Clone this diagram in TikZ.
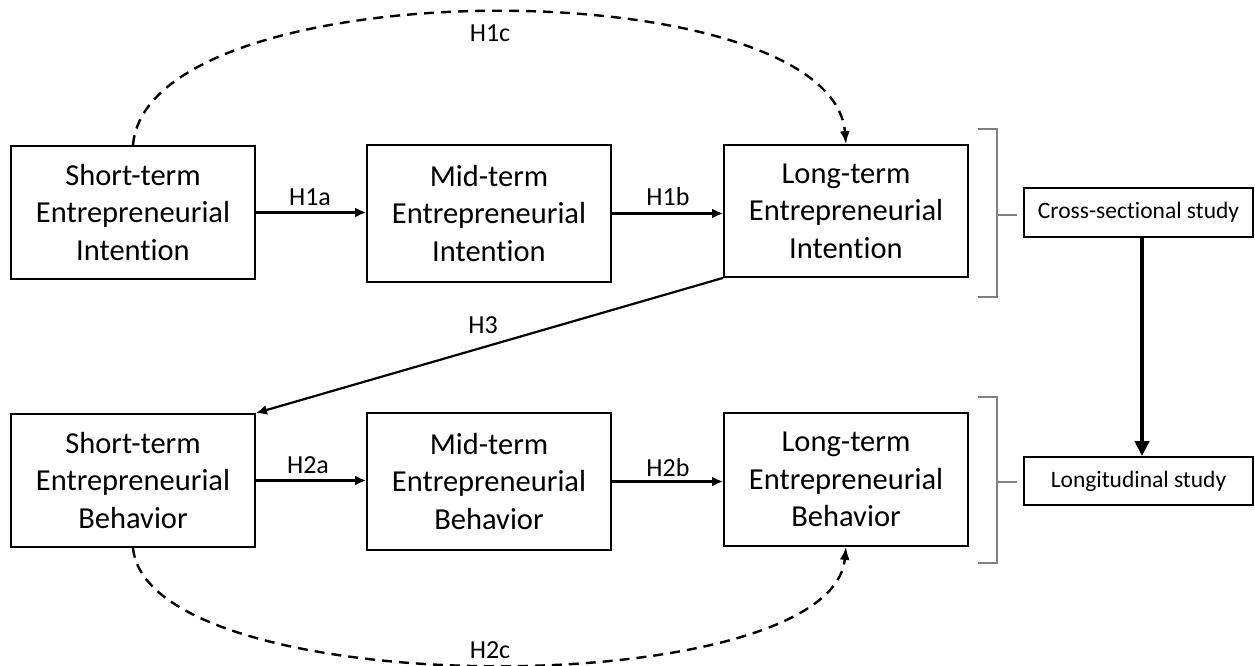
\documentclass[tikz,border=0pt]{standalone}
\usepackage{fontspec}
\setmainfont{Carlito}[Ligatures=NoCommon]
\usetikzlibrary{arrows.meta}
\begin{document}
\begin{tikzpicture}[x=1pt,y=-1pt,
  box/.style={draw, line width=1.8pt, rectangle, minimum width=244pt, align=center, inner sep=0pt, font=\fontsize{30.5}{37.5}\selectfont},
  sbox/.style={draw, line width=1.8pt, rectangle, minimum width=229pt, minimum height=48pt, inner sep=0pt, font=\fontsize{23.5}{27}\selectfont},
  lab/.style={inner sep=1pt, font=\fontsize{26}{30}\selectfont},
  arr/.style={line width=2.2pt, -{Latex[length=11pt,width=10pt]}},
  dasharr/.style={line width=2.4pt, dash pattern=on 10pt off 7pt, -{Latex[length=13pt,width=10pt]}},
  brk/.style={line width=1.5pt, draw=gray}
]
\useasboundingbox (0,0) rectangle (1255,666);
% intention row
\node[box, minimum height=133pt] (si) at (133,212.5) {Short-term\\Entrepreneurial\\Intention};
\node[box, minimum height=137pt] (mi) at (489,213.5) {Mid-term\\Entrepreneurial\\Intention};
\node[box, minimum height=132pt] (li) at (846,211) {Long-term\\Entrepreneurial\\Intention};
% behavior row
\node[box, minimum height=133pt] (sb) at (133,480.5) {Short-term\\Entrepreneurial\\Behavior};
\node[box, minimum height=137pt] (mb) at (489,481.5) {Mid-term\\Entrepreneurial\\Behavior};
\node[box, minimum height=133pt] (lb) at (846,479.5) {Long-term\\Entrepreneurial\\Behavior};
% study boxes
\node[sbox, minimum height=49pt] (cs) at (1138.5,212.5) {Cross-sectional study};
\node[sbox] (ls) at (1138.5,481) {Longitudinal study};
% straight arrows
\draw[arr] (si.east) -- (si.east -| mi.west);
\draw[arr] (mi.east) -- (mi.east -| li.west);
\draw[arr] (sb.east) -- (sb.east -| mb.west);
\draw[arr] (mb.east) -- (mb.east -| lb.west);
\draw[arr] (li.south west) -- (sb.north east);
% labels
\node[lab] (h1a) at (310,197) {H1a};
\node[lab] (h1b) at (668,197) {H1b};
\node[lab] (h2a) at (308,465) {H2a};
\node[lab] (h2b) at (668,468) {H2b};
\node[lab] (h3) at (483,325) {H3};
% dashed curves
\draw[dasharr] (si.north) .. controls +(15,-177) and +(-15,-176) .. (li.north);
\node[lab] (h1c) at (490,33) {H1c};
\draw[dasharr] (sb.south) .. controls +(15,156) and +(-15,157) .. (lb.south);
\node[lab, fill=white, inner sep=0.5pt] (h2c) at (490,650) {H2c};
% brackets
\draw[brk] (978,129) -- (997,129) -- (997,297) -- (978,297);
\draw[brk] (997,215) -- (1017,215);
\draw[brk] (978,397) -- (997,397) -- (997,563) -- (978,563);
\draw[brk] (997,482) -- (1017,482);
% thick arrow
\draw[line width=4.5pt, -{Triangle[length=15pt,width=14pt]}] ([xshift=3.5pt]cs.south) -- ([xshift=3.5pt]ls.north);
\end{tikzpicture}
\end{document}
